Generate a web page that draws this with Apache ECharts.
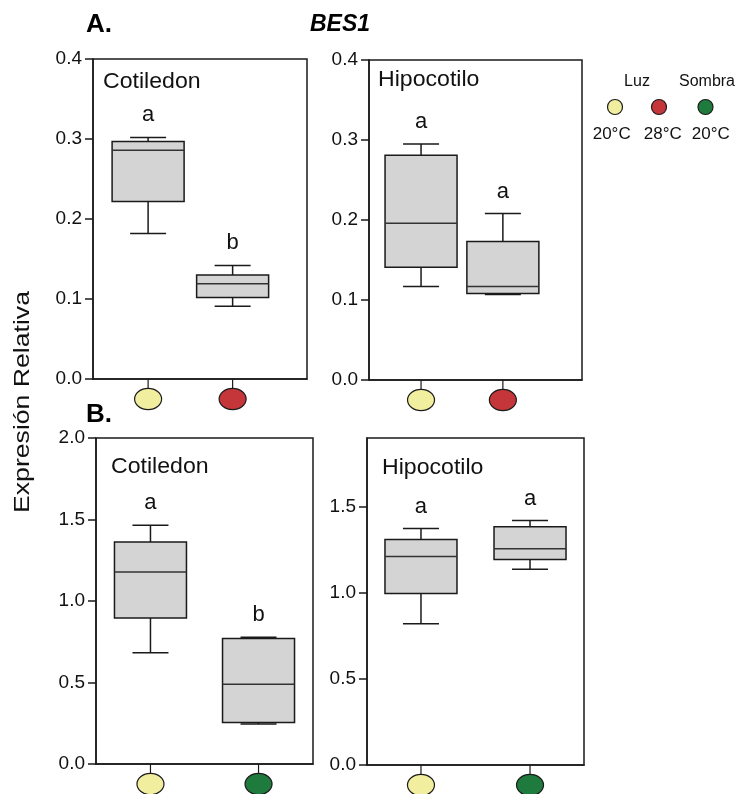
<!DOCTYPE html>
<html>
<head>
<meta charset="utf-8">
<script src="https://cdn.jsdelivr.net/npm/echarts@6/dist/echarts.min.js"></script>
<style>
html,body{margin:0;padding:0;background:#fff;}
#chart{width:741px;height:794px;}
</style>
</head>
<body>
<div id="chart"></div>
<script>
// ---- data ----
// box statistics: [min, Q1, median, Q3, max]
const cotiledonA = [[0.182, 0.222, 0.286, 0.297, 0.302], [0.091, 0.102, 0.119, 0.130, 0.142]];
const hipocotiloA = [[0.117, 0.141, 0.196, 0.281, 0.295], [0.107, 0.108, 0.117, 0.173, 0.208]];
const cotiledonB = [[0.682, 0.896, 1.178, 1.362, 1.464], [0.245, 0.255, 0.490, 0.770, 0.778]];
const hipocotiloB = [[0.820, 0.996, 1.211, 1.310, 1.374], [1.138, 1.194, 1.256, 1.385, 1.420]];
const lettersCotA = ['a', 'b'];
const lettersHipA = ['a', 'a'];
const lettersCotB = ['a', 'b'];
const lettersHipB = ['a', 'a'];
const conditionsA = ['Luz 20°C', 'Luz 28°C'];
const conditionsB = ['Luz 20°C', 'Sombra 20°C'];
const panelTitles = ['Cotiledon', 'Hipocotilo', 'Cotiledon', 'Hipocotilo'];
const yTicksA = [0, 0.1, 0.2, 0.3, 0.4];
const yTicksB1 = [0, 0.5, 1.0, 1.5, 2.0];
const yTicksB2 = [0, 0.5, 1.0, 1.5];
const legendGroups = ['Luz', 'Sombra'];
const legendTemps = ['20°C', '28°C', '20°C'];

const FONT = "'Liberation Sans', Arial, sans-serif";
const condColor = {'Luz 20°C': '#f2eea0', 'Luz 28°C': '#c5363b', 'Sombra 20°C': '#1f7a3d'};

const chart = echarts.init(document.getElementById('chart'), null, {renderer: 'canvas'});

const grids = [
  {left: 93, top: 59, width: 214, height: 320},
  {left: 369, top: 60, width: 213, height: 320},
  {left: 96, top: 438, width: 217, height: 326},
  {left: 367, top: 438, width: 217, height: 327}
];
const xRanges = [[-0.652, 1.88], [-0.636, 1.967], [-0.504, 1.504], [-0.495, 1.495]];
const yRanges = [[0, 0.4, 0.1, yTicksA], [0, 0.4, 0.1, yTicksA], [0, 2.0, 0.5, yTicksB1], [0, 1.9, 0.5, yTicksB2]];
const panels = [
  {stats: cotiledonA, letters: lettersCotA, conds: conditionsA},
  {stats: hipocotiloA, letters: lettersHipA, conds: conditionsA},
  {stats: cotiledonB, letters: lettersCotB, conds: conditionsB},
  {stats: hipocotiloB, letters: lettersHipB, conds: conditionsB}
];

function makeRender(p) {
  return function (params, api) {
    const i = api.value(0);
    const lo = api.coord([i, api.value(1)]);
    const q1 = api.coord([i, api.value(2)]);
    const md = api.coord([i, api.value(3)]);
    const q3 = api.coord([i, api.value(4)]);
    const hi = api.coord([i, api.value(5)]);
    const base = api.coord([i, 0]);
    const x = lo[0];
    const hw = 36, cw = 18;
    const ls = {stroke: '#1a1a1a', lineWidth: 1.5};
    return {
      type: 'group',
      children: [
        {type: 'line', shape: {x1: x, y1: hi[1], x2: x, y2: q3[1]}, style: ls},
        {type: 'line', shape: {x1: x, y1: q1[1], x2: x, y2: lo[1]}, style: ls},
        {type: 'line', shape: {x1: x - cw, y1: hi[1], x2: x + cw, y2: hi[1]}, style: ls},
        {type: 'line', shape: {x1: x - cw, y1: lo[1], x2: x + cw, y2: lo[1]}, style: ls},
        {type: 'rect', shape: {x: x - hw, y: q3[1], width: 2 * hw, height: q1[1] - q3[1]},
          style: {fill: '#d4d4d4', stroke: '#1a1a1a', lineWidth: 1.5}},
        {type: 'line', shape: {x1: x - hw, y1: md[1], x2: x + hw, y2: md[1]}, style: {stroke: '#333', lineWidth: 1.5}},
        {type: 'text', x: x, y: hi[1] - 22,
          style: {text: p.letters[params.dataIndex], font: '22px ' + FONT, fill: '#111', textAlign: 'center', textVerticalAlign: 'middle'}},
        {type: 'line', shape: {x1: x, y1: base[1], x2: x, y2: base[1] + 9}, style: {stroke: '#1a1a1a', lineWidth: 1.2}},
        {type: 'ellipse', shape: {cx: x, cy: base[1] + 20, rx: 13.5, ry: 10.7},
          style: {fill: condColor[p.conds[params.dataIndex]], stroke: '#1a1a1a', lineWidth: 1.2}}
      ]
    };
  };
}

const option = {
  animation: false,
  backgroundColor: '#fff',
  grid: grids.map(g => Object.assign({show: true, borderColor: '#1a1a1a', borderWidth: 1.5, backgroundColor: 'transparent'}, g)),
  xAxis: xRanges.map((r, k) => ({
    type: 'value', gridIndex: k, min: r[0], max: r[1],
    axisLine: {show: true, onZero: false, lineStyle: {color: '#1a1a1a', width: 1.5}},
    axisTick: {show: false}, axisLabel: {show: false}, splitLine: {show: false}
  })),
  yAxis: yRanges.map((r, k) => ({
    type: 'value', gridIndex: k, min: r[0], max: r[1], interval: r[2],
    axisLine: {show: true, onZero: false, lineStyle: {color: '#1a1a1a', width: 1.5}},
    axisTick: {show: true, length: 8, customValues: r[3], lineStyle: {color: '#1a1a1a', width: 1.5}},
    axisLabel: {customValues: r[3], formatter: v => v.toFixed(1), fontFamily: FONT, fontSize: 19, color: '#111', margin: 11},
    splitLine: {show: false}
  })),
  series: panels.map((p, k) => ({
    type: 'custom', xAxisIndex: k, yAxisIndex: k, clip: false,
    renderItem: makeRender(p),
    encode: {x: 0, y: [1, 2, 3, 4, 5]},
    data: p.stats.map((s, i) => [i].concat(s))
  })),
  graphic: [
    {type: 'text', x: 86, y: 25, style: {text: 'A.', font: 'bold 26px ' + FONT, fill: '#000', textVerticalAlign: 'middle'}},
    {type: 'text', x: 86, y: 415, style: {text: 'B.', font: 'bold 26px ' + FONT, fill: '#000', textVerticalAlign: 'middle'}},
    {type: 'text', x: 340, y: 25, style: {text: 'BES1', font: 'italic bold 23px ' + FONT, fill: '#000', textAlign: 'center', textVerticalAlign: 'middle'}},
    {type: 'text', x: 103, y: 82, scaleX: 1.05, style: {text: panelTitles[0], font: '22px ' + FONT, fill: '#111', textVerticalAlign: 'middle'}},
    {type: 'text', x: 378, y: 80, scaleX: 1.05, style: {text: panelTitles[1], font: '22px ' + FONT, fill: '#111', textVerticalAlign: 'middle'}},
    {type: 'text', x: 111, y: 467, scaleX: 1.05, style: {text: panelTitles[2], font: '22px ' + FONT, fill: '#111', textVerticalAlign: 'middle'}},
    {type: 'text', x: 382, y: 468, scaleX: 1.05, style: {text: panelTitles[3], font: '22px ' + FONT, fill: '#111', textVerticalAlign: 'middle'}},
    {type: 'text', x: 23, y: 402, rotation: Math.PI / 2, scaleX: 1.21,
      style: {text: 'Expresión Relativa', font: '22px ' + FONT, fill: '#111', textAlign: 'center', textVerticalAlign: 'middle'}},
    {type: 'text', x: 637, y: 82, style: {text: legendGroups[0], font: '16px ' + FONT, fill: '#111', textAlign: 'center', textVerticalAlign: 'middle'}},
    {type: 'text', x: 707, y: 82, style: {text: legendGroups[1], font: '16px ' + FONT, fill: '#111', textAlign: 'center', textVerticalAlign: 'middle'}},
    {type: 'circle', shape: {cx: 615, cy: 107, r: 7.5}, style: {fill: condColor['Luz 20°C'], stroke: '#1a1a1a', lineWidth: 1.2}},
    {type: 'circle', shape: {cx: 659, cy: 107, r: 7.5}, style: {fill: condColor['Luz 28°C'], stroke: '#1a1a1a', lineWidth: 1.2}},
    {type: 'circle', shape: {cx: 705.5, cy: 107, r: 7.5}, style: {fill: condColor['Sombra 20°C'], stroke: '#1a1a1a', lineWidth: 1.2}},
    {type: 'text', x: 611.7, y: 134, style: {text: legendTemps[0], font: '17px ' + FONT, fill: '#111', textAlign: 'center', textVerticalAlign: 'middle'}},
    {type: 'text', x: 662.8, y: 134, style: {text: legendTemps[1], font: '17px ' + FONT, fill: '#111', textAlign: 'center', textVerticalAlign: 'middle'}},
    {type: 'text', x: 710.8, y: 134, style: {text: legendTemps[2], font: '17px ' + FONT, fill: '#111', textAlign: 'center', textVerticalAlign: 'middle'}}
  ]
};
chart.setOption(option);
</script>
</body>
</html>
